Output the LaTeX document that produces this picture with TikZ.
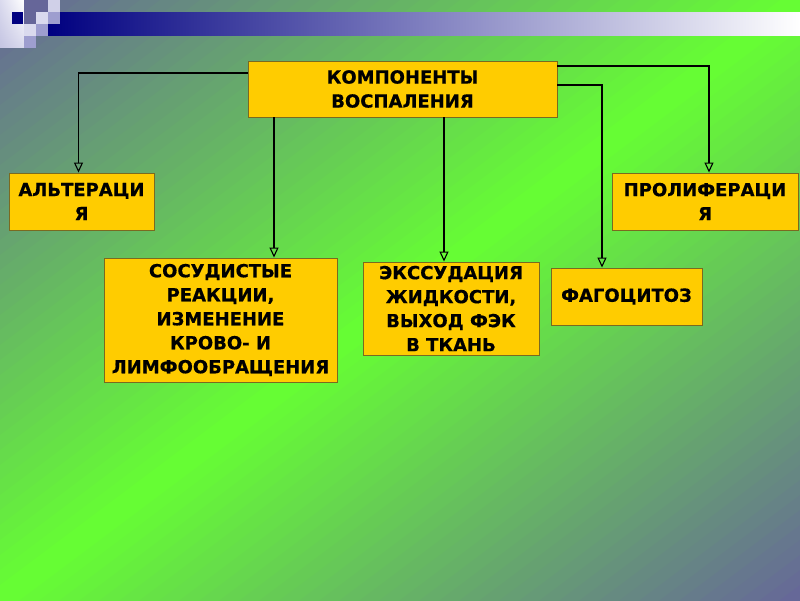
\documentclass[tikz,border=0pt]{standalone}
\usepackage{fontspec}
\setmainfont{DejaVu Sans}
\newfontfamily\boxfont{DejaVu Sans Bold}[FakeBold=0.6]
\usetikzlibrary{arrows.meta,shadings}
\definecolor{bgG}{HTML}{66FF33}
\definecolor{bgB}{HTML}{666699}
\definecolor{navy}{HTML}{000080}
\definecolor{boxfill}{HTML}{FFCC00}
\definecolor{boxline}{HTML}{7A6A20}
\definecolor{pale}{HTML}{DADAEE}
\definecolor{lav}{HTML}{9E9ECF}
\definecolor{lavlight}{HTML}{D0D0E8}
\begin{document}
\begin{tikzpicture}[x=1pt,y=-1pt,
  box/.style={draw=boxline, fill=boxfill, line width=0.9pt, inner sep=0pt, align=center,
    font=\boxfont\fontsize{18}{24}\selectfont},
  conn/.style={line width=1.7pt, -{Triangle[open, length=10pt, width=9pt, line width=1.1pt]}}]
\useasboundingbox (0,0) rectangle (800,600);
% background gradient
\begin{scope}
\clip (0,0) rectangle (800,600);
\foreach \i in {0,...,79}{
  \pgfmathsetmacro\sa{\i/40}
  \pgfmathsetmacro\sb{(\i+1)/40+0.004}
  \pgfmathsetmacro\pc{100*(1-abs((\i+0.5)/40-1))}
  \fill[bgG!\pc!bgB] ({800*\sa+1600},-1200) -- ({800*\sb+1600},-1200) -- ({800*\sb-1600},1200) -- ({800*\sa-1600},1200) -- cycle;
}
\end{scope}
% top decoration
\shade[left color=navy, right color=white] (48,12) rectangle (800,35);
\shade[upper left=pale, upper right=white, lower left=lav!60!white, lower right=pale] (0,0) rectangle (24,47);
\fill[navy] (12,12) rectangle (23,24);
\fill[bgB] (24,0) rectangle (48,24);
\fill[lavlight] (48,0) rectangle (60,12);
\fill[pale] (36,12) rectangle (48,24);
\fill[lav] (48,12) rectangle (60,24);
\fill[pale] (24,24) rectangle (36,36);
\fill[lav] (36,24) rectangle (48,36);
\fill[lav] (24,36) rectangle (36,48);
% boxes
\node[box, minimum width=309, minimum height=56] (main) at (402.5,89) {КОМПОНЕНТЫ\\ВОСПАЛЕНИЯ};
\node[box, minimum width=145, minimum height=57] (alt) at (81.5,201.5) {АЛЬТЕРАЦИ\\Я};
\node[box, minimum width=186, minimum height=57] (prol) at (705,201.5) {ПРОЛИФЕРАЦИ\\Я};
\node[box, minimum width=233, minimum height=124] (sos) at (220.5,320) {СОСУДИСТЫЕ\\РЕАКЦИИ,\\ИЗМЕНЕНИЕ\\КРОВО- И\\ЛИМФООБРАЩЕНИЯ};
\node[box, minimum width=176, minimum height=93] (eks) at (451,308.5) {ЭКССУДАЦИЯ\\ЖИДКОСТИ,\\ВЫХОД ФЭК\\В ТКАНЬ};
\node[box, minimum width=151, minimum height=57] (fag) at (626.5,296.5) {ФАГОЦИТОЗ};
% connectors
\draw[conn] (main.west |- 0,73) -| ([xshift=-3pt]alt.north);
\draw[conn] (main.south -| 274,0) -- (sos.north -| 274,0);
\draw[conn] (main.south -| 444,0) -- (eks.north -| 444,0);
\draw[conn] (main.east |- 0,66) -| ([xshift=4pt]prol.north);
\draw[conn] (main.east |- 0,85) -| (fag.north -| 602,0);
\end{tikzpicture}
\end{document}
